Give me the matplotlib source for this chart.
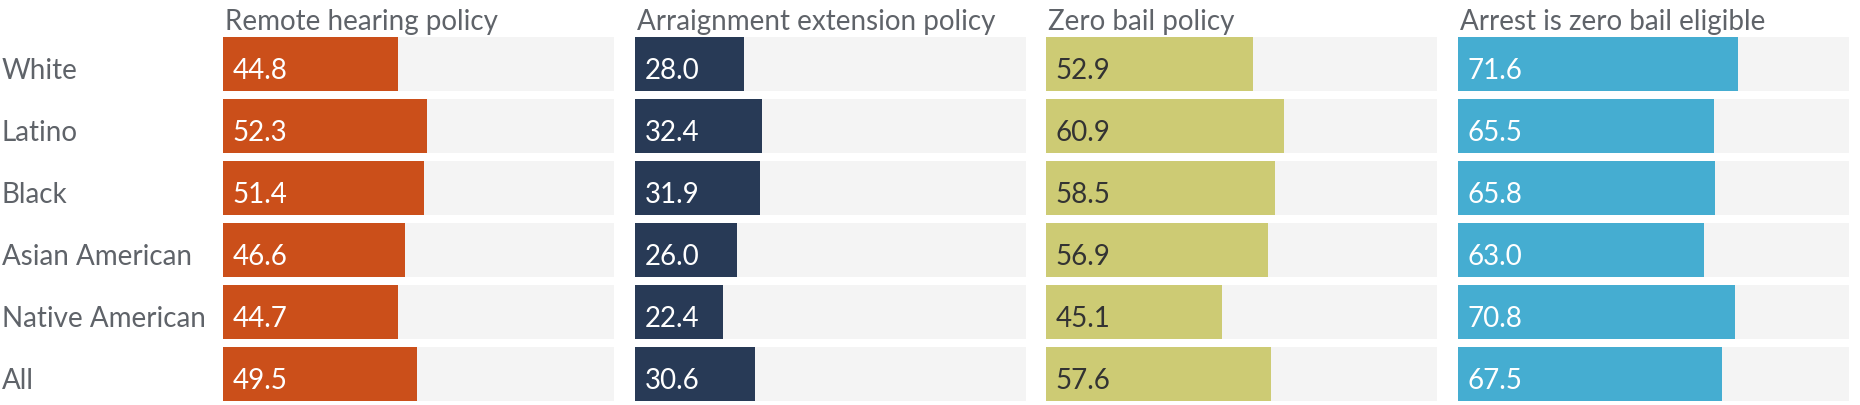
import matplotlib
matplotlib.use("Agg")
import matplotlib.pyplot as plt
from matplotlib.transforms import blended_transform_factory, offset_copy

plt.rcParams['font.family'] = ['Lato', 'DejaVu Sans']

# Data
groups = ["White", "Latino", "Black", "Asian American", "Native American", "All"]
titles = ["Remote hearing policy", "Arraignment extension policy",
          "Zero bail policy", "Arrest is zero bail eligible"]
remote_hearing = [44.8, 52.3, 51.4, 46.6, 44.7, 49.5]
arraignment_ext = [28.0, 32.4, 31.9, 26.0, 22.4, 30.6]
zero_bail = [52.9, 60.9, 58.5, 56.9, 45.1, 57.6]
zero_bail_eligible = [71.6, 65.5, 65.8, 63.0, 70.8, 67.5]
series = [remote_hearing, arraignment_ext, zero_bail, zero_bail_eligible]

colors = ["#CB4F1A", "#283A56", "#CDCB74", "#45ADD1"]
text_colors = ["white", "white", "#333333", "white"]
track_color = "#F4F4F4"
label_color = "#5F6369"

W, H = 1860, 406
fig = plt.figure(figsize=(W / 100, H / 100), dpi=100)

lefts = [223, 635, 1046, 1458]
panel_w = 391
top_px, bot_px = 38, 402
bar_h = 54 / 62
base_drop = -14 * 0.72  # baseline sits ~14px below bar centre (points)

axes = []
for k, (vals, title) in enumerate(zip(series, titles)):
    ax = fig.add_axes([lefts[k] / W, 1 - bot_px / H, panel_w / W, (bot_px - top_px) / H])
    y = list(range(len(groups)))
    ax.barh(y, [100] * len(groups), height=bar_h, color=track_color, linewidth=0)
    ax.barh(y, vals, height=bar_h, color=colors[k], linewidth=0)
    for i, v in enumerate(vals):
        ax.annotate(f"{v:.1f}", xy=(0, i), xytext=(7, base_drop), textcoords="offset points",
                    va="baseline", ha="left", fontsize=20, color=text_colors[k])
    ax.set_xlim(0, 100)
    ax.set_ylim(len(groups) - 1 + bar_h / 2, -bar_h / 2)
    ax.axis("off")
    ax.text(0.005, 1 + 8 / (bot_px - top_px), title, transform=ax.transAxes,
            va="baseline", ha="left", fontsize=20, color=label_color)
    axes.append(ax)

trans = blended_transform_factory(fig.transFigure, axes[0].transData)
trans = offset_copy(trans, fig=fig, y=base_drop, units="points")
for i, g in enumerate(groups):
    axes[0].text(2 / W, i, g, transform=trans, va="baseline", ha="left",
                 fontsize=20, color=label_color)

fig.savefig("out.png", dpi=100)
